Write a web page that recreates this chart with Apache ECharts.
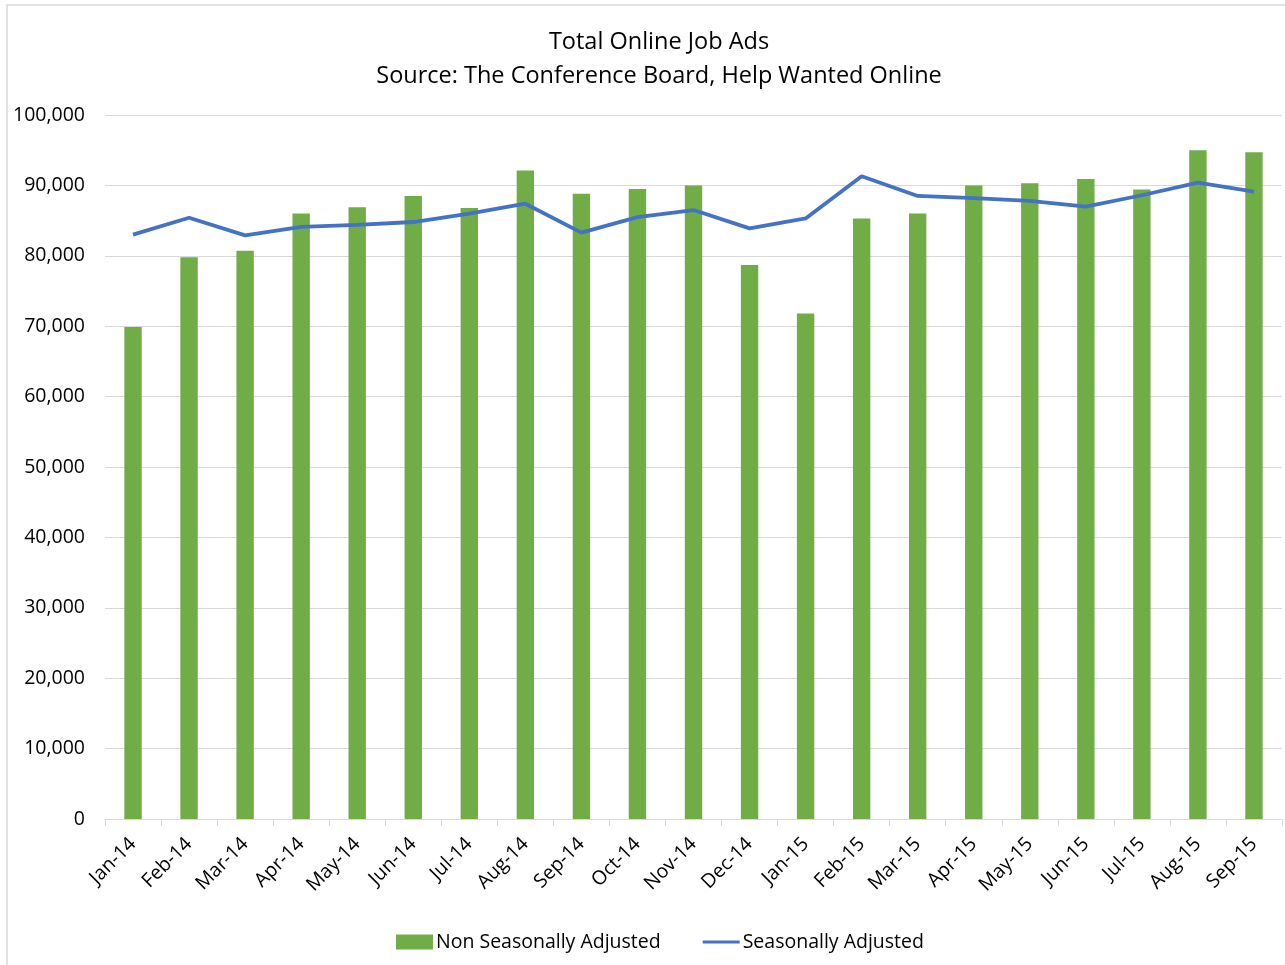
<!DOCTYPE html>
<html>
<head>
<meta charset="utf-8">
<script src="https://cdn.jsdelivr.net/npm/echarts@6/dist/echarts.min.js"></script>
<style>
html, body { margin: 0; padding: 0; background: #fff; }
#mycharts { width: 1285px; height: 965px; }
</style>
</head>
<body>
<div id="mycharts"></div>
<script>
var months = ['Jan-14', 'Feb-14', 'Mar-14', 'Apr-14', 'May-14', 'Jun-14', 'Jul-14', 'Aug-14', 'Sep-14', 'Oct-14', 'Nov-14', 'Dec-14',
	'Jan-15', 'Feb-15', 'Mar-15', 'Apr-15', 'May-15', 'Jun-15', 'Jul-15', 'Aug-15', 'Sep-15'];
var nonSeasonal = [69900, 79800, 80700, 86000, 86900, 88500, 86800, 92100, 88800, 89500, 90000, 78700,
	71800, 85300, 86000, 90000, 90300, 90900, 89400, 95000, 94700];
var seasonal = [83000, 85400, 82900, 84100, 84400, 84800, 86000, 87400, 83300, 85500, 86500, 83900,
	85300, 91300, 88500, 88200, 87800, 87000, 88600, 90400, 89100];

var font = '"Open Sans", "Noto Sans", sans-serif';
var myChart = echarts.init(document.getElementById('mycharts'));
myChart.setOption({
	animation: false,
	textStyle: { fontFamily: font },
	title: {
		text: 'Total Online Job Ads\nSource: The Conference Board, Help Wanted Online',
		left: 654,
		textAlign: 'center',
		top: 20,
		textStyle: { fontSize: 23.5, fontWeight: 'normal', color: '#000', lineHeight: 34, fontFamily: font }
	},
	graphic: [{
		type: 'rect',
		shape: { x: 7, y: 5, width: 1300, height: 1000 },
		style: { fill: 'none', stroke: '#d9d9d9', lineWidth: 1.5 },
		silent: true
	}],
	legend: {
		bottom: 8,
		left: 391,
		itemGap: 42,
		itemWidth: 37,
		itemHeight: 15,
		textStyle: { fontSize: 19.5, color: '#000', fontFamily: font, padding: [0, 0, 0, -2] },
		data: [
			{ name: 'Non Seasonally Adjusted', icon: 'rect' },
			{ name: 'Seasonally Adjusted', icon: 'path://M0,0 L40,0 L40,3.5 L0,3.5 Z' }
		]
	},
	grid: { left: 105, right: 3, top: 115, bottom: 146 },
	xAxis: {
		type: 'category',
		data: months,
		axisLine: { lineStyle: { color: '#d9d9d9', width: 1 } },
		axisTick: { show: true, length: 7, lineStyle: { color: '#d9d9d9' } },
		axisLabel: { rotate: 45, fontSize: 19.5, color: '#000', margin: 22, fontFamily: font }
	},
	yAxis: {
		type: 'value',
		min: 0,
		max: 100000,
		interval: 10000,
		axisLine: { show: false },
		axisTick: { show: false },
		splitLine: { lineStyle: { color: '#d9d9d9', width: 1 } },
		axisLabel: {
			fontSize: 19.5, color: '#000', margin: 20, fontFamily: font,
			formatter: function (v) { return v.toLocaleString('en-US'); }
		}
	},
	series: [{
		name: 'Non Seasonally Adjusted',
		type: 'bar',
		data: nonSeasonal,
		barWidth: '31%',
		itemStyle: { color: '#70AD47' }
	}, {
		name: 'Seasonally Adjusted',
		type: 'line',
		data: seasonal,
		symbol: 'none',
		lineStyle: { color: '#4472C4', width: 3.8 },
		itemStyle: { color: '#4472C4' }
	}]
});
</script>
</body>
</html>
